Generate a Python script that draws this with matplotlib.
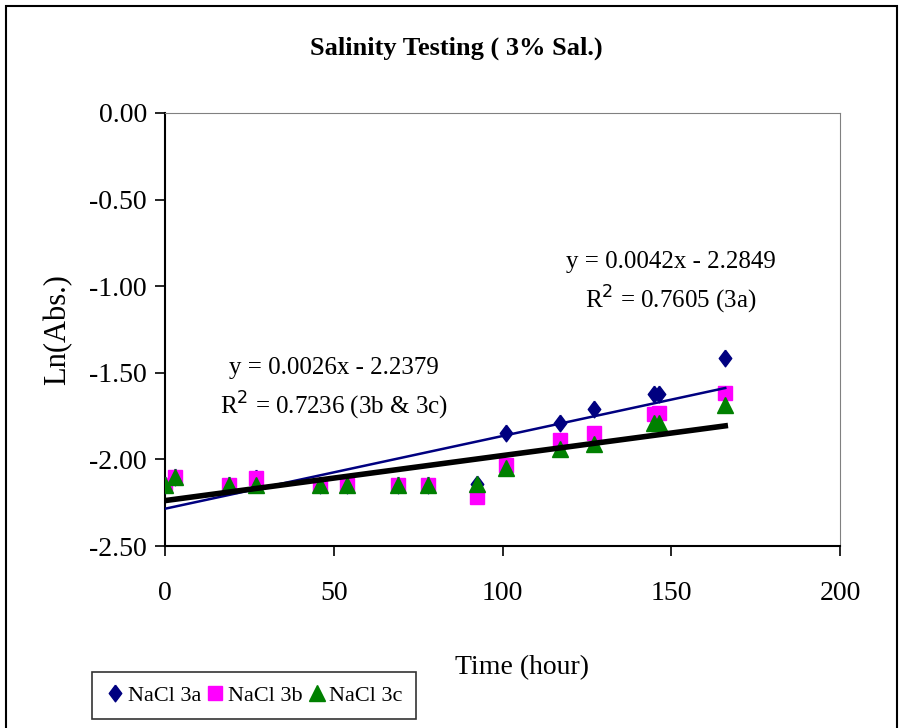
import numpy as np
import matplotlib.pyplot as plt
from matplotlib.patches import Rectangle

# Data
hours = [0, 3, 19, 27, 46, 54, 69, 78, 92.5, 101, 117, 127, 145, 146.5, 166]
nacl_3a = [-2.15, -2.10, -2.15, -2.11, -2.15, -2.15, -2.15, -2.15,
           -2.14, -1.85, -1.79, -1.71, -1.62, -1.62, -1.415]
nacl_3b = [-2.15, -2.10, -2.15, -2.105, -2.15, -2.15, -2.15, -2.15,
           -2.215, -2.03, -1.89, -1.846, -1.74, -1.73, -1.618]
nacl_3c = [-2.15, -2.10, -2.15, -2.15, -2.15, -2.15, -2.15, -2.15,
           -2.14, -2.05, -1.94, -1.91, -1.79, -1.79, -1.686]

fit_3a = [0.0042, -2.2849]
fit_3bc = [0.0026, -2.2379]

plt.rcParams['font.family'] = ['Liberation Serif', 'DejaVu Serif']

# Excel-like diamond, a bit taller than wide
diamond = [(0, 1), (0.75, 0), (0, -1), (-0.75, 0), (0, 1)]

fig = plt.figure(figsize=(9, 7.28), dpi=100)
ax = fig.add_axes([165/900, 1 - 546/728, 675/900, 433/728])

ax.plot(hours, nacl_3a, marker=diamond, ls='none', color='#000080',
        markersize=12, label='NaCl 3a', zorder=3)
ax.plot(hours, nacl_3b, 's', color='#FF00FF', markersize=10, label='NaCl 3b', zorder=4)
ax.plot(hours, nacl_3c, '^', color='#008000', markersize=11, label='NaCl 3c', zorder=5)

xs = np.array([0, max(hours)])
ax.plot(xs, np.polyval(fit_3a, xs), color='#000080', lw=1.8, zorder=6)
ax.plot(xs, np.polyval(fit_3bc, xs), color='black', lw=4, zorder=6)

ax.set_xlim(0, 200)
ax.set_ylim(-2.5, 0)
ax.set_xticks([0, 50, 100, 150, 200])
ax.set_yticks(np.arange(-2.5, 0.01, 0.5))
ax.yaxis.set_major_formatter(plt.FormatStrFormatter('%.2f'))
ax.tick_params(direction='out', length=7, width=1.2, labelsize=20)
ax.tick_params(axis='y', pad=6)
ax.tick_params(axis='x', pad=18)

for side in ['top', 'right']:
    ax.spines[side].set_color('#808080')
for side in ['left', 'bottom']:
    ax.spines[side].set_linewidth(1.5)

fig.text(456/900, 1 - 48/728, 'Salinity Testing ( 3% Sal.)', fontsize=19,
         fontweight='bold', ha='center', va='center')
ax.set_ylabel('Ln(Abs.)', fontsize=22)
ax.yaxis.set_label_coords(-0.138, 0.5)
ax.set_xlabel('Time (hour)', fontsize=20)
ax.xaxis.set_label_coords(0.529, -0.252)

ax.text(150, -0.86, 'y = 0.0042x - 2.2849', fontsize=18, ha='center', va='center')
ax.text(150, -1.08, 'R$^2$ = 0.7605 (3a)', fontsize=18, ha='center', va='center')
ax.text(50, -1.47, 'y = 0.0026x - 2.2379', fontsize=18, ha='center', va='center')
ax.text(50, -1.69, 'R$^2$ = 0.7236 (3b & 3c)', fontsize=18, ha='center', va='center')

leg = fig.legend(loc='upper left', bbox_to_anchor=(92/900, 1 - 672/728), ncol=3,
                 fontsize=16, frameon=True, fancybox=False, edgecolor='black',
                 handletextpad=0.1, columnspacing=0.2, handlelength=0.9,
                 borderpad=0.6, borderaxespad=0)
leg.get_frame().set_linewidth(1.2)

fig.patches.append(Rectangle((6/900, -0.01), 891/900, 1.01 - 6/728,
                             transform=fig.transFigure, fill=False,
                             edgecolor='black', lw=1.5))

fig.savefig('out.png', dpi=100)
